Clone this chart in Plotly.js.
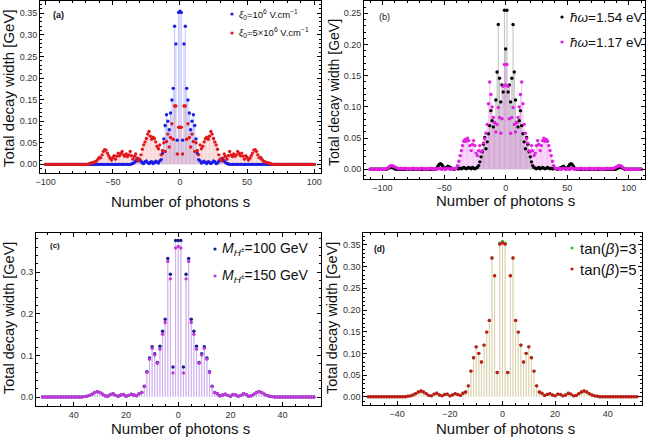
<!DOCTYPE html>
<html>
<head>
<meta charset="utf-8">
<script src="https://cdn.plot.ly/plotly-3.0.1.min.js"></script>
<style>
  html, body { margin: 0; padding: 0; background: #fff; }
  #plot { width: 650px; height: 441px; }
</style>
</head>
<body>
<div id="plot"></div>
<script>
// photon number s runs over consecutive integers in each panel
function seq(a, b) {
    const out = [];
    for (let s = a; s <= b; s++) out.push(s);
    return out;
}

// ---- panel (a): s = -100..100 ----
const sA = seq(-100, 100);
const widthA_xi1 = [
    0,0,0,0,0,0,0,0,0,0,0,0,0,0,0,0, 0,0,0,0,0,0,0,0,0,0,0,0,0,0,0,0,
    0,0,0,0,0,0,0,0,0,0,0,0,0,0,0,0, 0,0,0,0,0,0,0,0,0,0,0,0,0,0,0,0,
    0.001,0.002,0.004,0.007,0.011,0.013,0.011,0.007,0.003,0.002,0.006,0.008,0.004,0.002,0.005,0.006,0.002,0.004,
    0.007,0.005,0.003,0.008,0.011,0.025,0.059,0.090,0.115,0.100,0.080,0.119,0.149,0.176,0.320,0.279,0.056,0.352,
    0.355,
    0.352,0.056,0.279,0.320,0.176,0.149,0.119,0.080,0.100,0.115,0.090,0.059,0.025,0.011,0.008,0.003,0.005,0.007,
    0.004,0.002,0.006,0.005,0.002,0.004,0.008,0.006,0.002,0.003,0.007,0.011,0.013,0.011,0.007,0.004,0.002,0.001,
    0,0,0,0,0,0,0,0,0,0,0,0,0,0,0,0, 0,0,0,0,0,0,0,0,0,0,0,0,0,0,0,0,
    0,0,0,0,0,0,0,0,0,0,0,0,0,0,0,0, 0,0,0,0,0,0,0,0,0,0,0,0,0,0,0,0
];
const widthA_xi5 = [
    0,0,0,0,0,0,0,0,0,0,0,0,0,0,0,0, 0,0,0,0,0,0,0,0,0,0,0,0,0,0,0,0,
    0.001,0.002,0.003,0.004,0.005,0.006,0.008,0.012,
    0.016,0.015,0.022,0.030,0.034,0.033,0.026,0.020,0.014,0.010,
    0.016,0.020,0.012,0.019,0.026,0.020,0.025,0.030,0.022,0.019,
    0.024,0.018,0.022,0.030,0.020,0.012,0.018,0.024,0.015,0.008,
    0.012,0.022,0.035,0.045,0.052,0.060,0.070,0.076,0.065,0.058,
    0.063,0.060,0.052,0.042,0.036,0.045,0.022,0.032,0.050,0.030,
    0.053,0.070,0.040,0.062,0.094,0.058,0.135,0.135,0.024,0.086,
    0.086,
    0.086,0.024,0.135,0.135,0.058,0.094,0.062,0.040,0.070,0.053,
    0.030,0.050,0.032,0.022,0.045,0.036,0.042,0.052,0.060,0.063,
    0.058,0.065,0.076,0.070,0.060,0.052,0.045,0.035,0.022,0.012,
    0.008,0.015,0.024,0.018,0.012,0.020,0.030,0.022,0.018,0.024,
    0.019,0.022,0.030,0.025,0.020,0.026,0.019,0.012,0.020,0.016,
    0.010,0.014,0.020,0.026,0.033,0.034,0.030,0.022,0.015,0.016,
    0.012,0.008,0.006,0.005,0.004,0.003,0.002,0.001,
    0,0,0,0,0,0,0,0,0,0,0,0,0,0,0,0, 0,0,0,0,0,0,0,0,0,0,0,0,0,0,0,0
];

// ---- panel (b): s = -110..110 ----
const sB = seq(-110, 110);
const widthB_154 = [
    0,0,0,0,0,0,0,0,0,0,
    0,0,0,0,0.001,0.002,0.003,0.003,0.003,0.002,
    0.001,0,0,0,0,0,0,0,0,0,
    0,0,0,0,0,0,0,0,0,0,
    0,0,0,0,0,0,0,0,0,0,
    0,0,0,0.001,0.002,0.005,0.008,0.009,0.008,0.005,
    0.002,0.001,0.003,0.005,0.004,0.003,0.002,0.001,0,0.001,
    0.002,0.001,0.001,0.002,0.001,0.002,0.003,0.002,0.001,0.002,
    0.003,0.002,0.001,0.003,0.002,0.001,0.002,0.003,0.006,0.012,
    0.020,0.028,0.040,0.051,0.033,0.044,0.057,0.070,0.094,0.078,
    0.068,0.075,0.111,0.156,0.232,0.146,0.108,0.135,0.124,0.255,
    0.193,
    0.255,0.124,0.135,0.108,0.146,0.232,0.156,0.111,0.075,0.068,
    0.078,0.094,0.070,0.057,0.044,0.033,0.051,0.040,0.028,0.020,
    0.012,0.006,0.003,0.002,0.001,0.002,0.003,0.001,0.002,0.003,
    0.002,0.001,0.002,0.003,0.002,0.001,0.002,0.001,0.001,0.002,
    0.001,0,0.001,0.002,0.003,0.004,0.005,0.003,0.001,0.002,
    0.005,0.008,0.009,0.008,0.005,0.002,0.001,0,0,0,
    0,0,0,0,0,0,0,0,0,0,
    0,0,0,0,0,0,0,0,0,0,
    0,0,0,0,0,0,0,0,0,0.001,
    0.002,0.003,0.003,0.003,0.002,0.001,0,0,0,0,
    0,0,0,0,0,0,0,0,0,0
];
const widthB_117 = [
    0,0,0,0,0,0,0,0,0,0,
    0,0,0,0.001,0.002,0.003,0.005,0.006,0.006,0.005,
    0.004,0.003,0.002,0.001,0.001,0.002,0.001,0.001,0.002,0.001,
    0,0.001,0.001,0,0.001,0.002,0.001,0,0.001,0.001,
    0,0.001,0.002,0.001,0,0.001,0.001,0,0.001,0.002,
    0.001,0,0.001,0.001,0,0.001,0.002,0.001,0,0.001,
    0.001,0,0.001,0.002,0.001,0,0.001,0.002,0.001,0.001,
    0.002,0.006,0.013,0.022,0.030,0.038,0.045,0.048,0.045,0.050,
    0.046,0.038,0.030,0.040,0.046,0.038,0.026,0.022,0.030,0.038,
    0.028,0.030,0.042,0.049,0.058,0.072,0.105,0.140,0.120,0.100,
    0.083,0.075,0.060,0.072,0.099,0.083,0.058,0.081,0.133,0.168,
    0.135,
    0.168,0.133,0.081,0.058,0.083,0.099,0.072,0.060,0.075,0.083,
    0.100,0.120,0.140,0.105,0.072,0.058,0.049,0.042,0.030,0.028,
    0.038,0.030,0.022,0.026,0.038,0.046,0.040,0.030,0.038,0.046,
    0.050,0.045,0.048,0.045,0.038,0.030,0.022,0.013,0.006,0.002,
    0.001,0.001,0.002,0.001,0,0.001,0.002,0.001,0,0.001,
    0.001,0,0.001,0.002,0.001,0,0.001,0.001,0,0.001,
    0.002,0.001,0,0.001,0.001,0,0.001,0.002,0.001,0,
    0.001,0.001,0,0.001,0.002,0.001,0,0.001,0.001,0,
    0.001,0.002,0.001,0.001,0.002,0.001,0.001,0.002,0.003,0.004,
    0.005,0.006,0.006,0.005,0.003,0.002,0.001,0,0,0,
    0,0,0,0,0,0,0,0,0,0
];

// ---- panel (c): s = -52..52 ----
const sC = seq(-52, 52);
const widthC_M100 = [
    0,0, 0,0,0,0,0,0,0,0,0,0,
    0,0,0,0,0.001,0.002,0.004,0.007,0.011,0.013,
    0.011,0.007,0.003,0.002,0.006,0.008,0.004,0.002,0.005,0.006,
    0.002,0.004,0.007,0.005,0.003,0.008,0.011,0.026,0.061,0.094,
    0.121,0.104,0.083,0.122,0.158,0.187,0.333,0.295,0.072,0.376,
    0.376,
    0.376,0.072,0.295,0.333,0.187,0.158,0.122,0.083,0.104,0.121,
    0.094,0.061,0.026,0.011,0.008,0.003,0.005,0.007,0.004,0.002,
    0.006,0.005,0.002,0.004,0.008,0.006,0.002,0.003,0.007,0.011,
    0.013,0.011,0.007,0.004,0.002,0.001,0,0,0,0,
    0,0,0,0,0,0,0,0,0,0, 0,0
];
const widthC_M150 = [
    0,0, 0,0,0,0,0,0,0,0,0,0,
    0,0,0,0,0.001,0.002,0.004,0.007,0.011,0.013,
    0.011,0.007,0.003,0.002,0.006,0.008,0.004,0.002,0.005,0.006,
    0.002,0.004,0.007,0.005,0.003,0.008,0.011,0.025,0.059,0.091,
    0.117,0.101,0.081,0.115,0.151,0.179,0.326,0.284,0.058,0.358,
    0.362,
    0.358,0.058,0.284,0.326,0.179,0.151,0.115,0.081,0.101,0.117,
    0.091,0.059,0.025,0.011,0.008,0.003,0.005,0.007,0.004,0.002,
    0.006,0.005,0.002,0.004,0.008,0.006,0.002,0.003,0.007,0.011,
    0.013,0.011,0.007,0.004,0.002,0.001,0,0,0,0,
    0,0,0,0,0,0,0,0,0,0, 0,0
];

// ---- panel (d): s = -51..51 ----
const sD = seq(-51, 51);
const widthD_tan3 = [
    0, 0,0,0,0,0,0,0,0,0,0,
    0,0,0,0,0.001,0.002,0.004,0.007,0.011,0.013,
    0.011,0.007,0.003,0.002,0.006,0.008,0.004,0.002,0.005,0.006,
    0.002,0.004,0.007,0.005,0.003,0.008,0.011,0.025,0.059,0.090,
    0.115,0.100,0.080,0.119,0.149,0.176,0.320,0.279,0.056,0.354,
    0.358,
    0.354,0.056,0.279,0.320,0.176,0.149,0.119,0.080,0.100,0.115,
    0.090,0.059,0.025,0.011,0.008,0.003,0.005,0.007,0.004,0.002,
    0.006,0.005,0.002,0.004,0.008,0.006,0.002,0.003,0.007,0.011,
    0.013,0.011,0.007,0.004,0.002,0.001,0,0,0,0,
    0,0,0,0,0,0,0,0,0,0, 0
];
const widthD_tan5 = [
    0, 0,0,0,0,0,0,0,0,0,0,
    0,0,0,0,0.001,0.002,0.004,0.007,0.011,0.013,
    0.011,0.007,0.003,0.002,0.006,0.008,0.004,0.002,0.005,0.006,
    0.002,0.004,0.007,0.005,0.003,0.008,0.011,0.025,0.059,0.090,
    0.115,0.100,0.080,0.119,0.149,0.176,0.320,0.279,0.056,0.352,
    0.355,
    0.352,0.056,0.279,0.320,0.176,0.149,0.119,0.080,0.100,0.115,
    0.090,0.059,0.025,0.011,0.008,0.003,0.005,0.007,0.004,0.002,
    0.006,0.005,0.002,0.004,0.008,0.006,0.002,0.003,0.007,0.011,
    0.013,0.011,0.007,0.004,0.002,0.001,0,0,0,0,
    0,0,0,0,0,0,0,0,0,0, 0
];

const FONT = 'Liberation Sans, Arial, sans-serif';

// vertical filling from the axis to each point
function stems(xs, ys, color, ax) {
    const x = [], y = [];
    xs.forEach((s, i) => { x.push(s, s, null); y.push(0, ys[i], null); });
    return { x: x, y: y, mode: 'lines', type: 'scatter', hoverinfo: 'skip',
        line: { color: color, width: 1 }, xaxis: 'x' + ax, yaxis: 'y' + ax, showlegend: false };
}

function dots(xs, ys, color, ax) {
    return { x: xs, y: ys, mode: 'markers', type: 'scatter',
        marker: { color: color, size: 3.4 }, xaxis: 'x' + ax, yaxis: 'y' + ax, showlegend: false };
}

const data = [
    stems(sA, widthA_xi1, 'rgba(140,150,245,0.55)', ''),
    stems(sA, widthA_xi5, 'rgba(245,150,150,0.45)', ''),
    dots(sA, widthA_xi1, '#1c1ce6', ''),
    dots(sA, widthA_xi5, '#e0181c', ''),

    stems(sB, widthB_154, 'rgba(150,150,150,0.6)', '2'),
    stems(sB, widthB_117, 'rgba(235,140,235,0.5)', '2'),
    dots(sB, widthB_154, '#000000', '2'),
    dots(sB, widthB_117, '#e01ee0', '2'),

    stems(sC, widthC_M100, 'rgba(150,150,220,0.5)', '3'),
    stems(sC, widthC_M150, 'rgba(215,150,240,0.6)', '3'),
    dots(sC, widthC_M100, '#1a1a8c', '3'),
    dots(sC, widthC_M150, '#c03ad8', '3'),

    stems(sD, widthD_tan3, 'rgba(200,215,160,0.6)', '4'),
    stems(sD, widthD_tan5, 'rgba(215,190,150,0.6)', '4'),
    dots(sD, widthD_tan3, '#3cc03c', '4'),
    dots(sD, widthD_tan5, '#c8161c', '4')
];

function frame(extra) {
    return Object.assign({
        showline: true, linecolor: '#000', linewidth: 1, mirror: 'allticks',
        ticks: 'inside', ticklen: 4, tickcolor: '#000', tickwidth: 1,
        showgrid: false, zeroline: false, fixedrange: true,
        tickfont: { family: FONT, size: 9, color: '#333' },
        minor: { ticks: 'inside', ticklen: 2, tickcolor: '#000', showgrid: false }
    }, extra);
}

function px(x) { return x / 650; }
function py(y) { return 1 - y / 441; }

function text(x, y, t, size, opts) {
    return Object.assign({ xref: 'paper', yref: 'paper', x: px(x), y: py(y), text: t,
        showarrow: false, xanchor: 'left', yanchor: 'middle',
        font: { family: FONT, size: size, color: '#111' } }, opts || {});
}

function legendDot(x, y, color) {
    const r = 1.6;
    return { type: 'circle', xref: 'paper', yref: 'paper',
        x0: px(x - r), x1: px(x + r), y0: py(y + r), y1: py(y - r),
        fillcolor: color, line: { width: 0 } };
}

const layout = {
    width: 650, height: 441,
    margin: { l: 0, r: 0, t: 0, b: 0 },
    paper_bgcolor: '#fff', plot_bgcolor: '#fff',
    showlegend: false,
    xaxis: frame({ domain: [0.0615, 0.4934], range: [-104.2, 104.8], anchor: 'y',
        tickvals: [-100, -50, 0, 50, 100], minor: { dtick: 10, ticks: 'inside', ticklen: 2, tickcolor: '#000' } }),
    yaxis: frame({ domain: [0.607, 0.998], range: [-0.0208, 0.3787], anchor: 'x',
        tick0: 0, dtick: 0.05, tickformat: '.2f', minor: { dtick: 0.01, ticks: 'inside', ticklen: 2, tickcolor: '#000' } }),
    xaxis2: frame({ domain: [0.560, 0.9923], range: [-115, 113.1], anchor: 'y2',
        tickvals: [-100, -50, 0, 50, 100], minor: { dtick: 10, ticks: 'inside', ticklen: 2, tickcolor: '#000' } }),
    yaxis2: frame({ domain: [0.5941, 0.9977], range: [-0.0155, 0.2697], anchor: 'x2',
        tick0: 0, dtick: 0.05, tickformat: '.2f', minor: { dtick: 0.01, ticks: 'inside', ticklen: 2, tickcolor: '#000' } }),
    xaxis3: frame({ domain: [0.0554, 0.4934], range: [-54.5, 54.6], anchor: 'y3',
        tickvals: [-40, -20, 0, 20, 40], ticktext: ['40', '20', '0', '20', '40'],
        minor: { dtick: 5, ticks: 'inside', ticklen: 2, tickcolor: '#000' } }),
    yaxis3: frame({ domain: [0.0800, 0.4710], range: [-0.0209, 0.3935], anchor: 'x3',
        tick0: 0, dtick: 0.1, tickformat: '.1f', minor: { dtick: 0.02, ticks: 'inside', ticklen: 2, tickcolor: '#000' } }),
    xaxis4: frame({ domain: [0.5589, 0.9872], range: [-52.9, 52.9], anchor: 'y4',
        tickvals: [-40, -20, 0, 20, 40], minor: { dtick: 5, ticks: 'inside', ticklen: 2, tickcolor: '#000' } }),
    yaxis4: frame({ domain: [0.0810, 0.4710], range: [-0.0198, 0.377], anchor: 'x4',
        tick0: 0, dtick: 0.05, tickformat: '.2f', minor: { dtick: 0.01, ticks: 'inside', ticklen: 2, tickcolor: '#000' } }),
    annotations: [
        // axis titles
        text(180, 201, 'Number of photons s', 15, { xanchor: 'center' }),
        text(505, 200, 'Number of photons s', 15, { xanchor: 'center' }),
        text(180, 428, 'Number of photons s', 15, { xanchor: 'center' }),
        text(505, 428, 'Number of photons s', 15, { xanchor: 'center' }),
        text(8, 88, 'Total decay width [GeV]', 15, { xanchor: 'center', textangle: -90 }),
        text(334, 93, 'Total decay width [GeV]', 14, { xanchor: 'center', textangle: -90 }),
        text(9, 318, 'Total decay width [GeV]', 14.5, { xanchor: 'center', textangle: -90 }),
        text(332, 318, 'Total decay width [GeV]', 14.5, { xanchor: 'center', textangle: -90 }),
        // panel labels
        text(51, 15, '<b>(a)</b>', 9),
        text(377, 17, '(b)', 9),
        text(48, 246, '<b>(c)</b>', 8),
        text(372, 249, '<b>(d)</b>', 8.5),
        // legends
        text(237, 14, '<i>ξ</i><sub>0</sub>=10<sup>6</sup> V.cm<sup>−1</sup>', 9.5),
        text(237, 33, '<i>ξ</i><sub>0</sub>=5×10<sup>6</sup> V.cm<sup>−1</sup>', 9.5),
        text(568, 17, '<i>ħω</i>=1.54 eV', 13.5),
        text(568, 42, '<i>ħω</i>=1.17 eV', 13.5),
        text(220, 249, '<i>M</i><sub><i>H</i><sup>±</sup></sub>=100 GeV', 14),
        text(220, 276, '<i>M</i><sub><i>H</i><sup>±</sup></sub>=150 GeV', 14),
        text(578, 248, 'tan(<i>β</i>)=3', 15),
        text(578, 269, 'tan(<i>β</i>)=5', 15)
    ],
    shapes: [
        legendDot(232, 14, '#1c1ce6'),
        legendDot(232, 33, '#e0181c'),
        legendDot(562, 17, '#000000'),
        legendDot(562, 42, '#e01ee0'),
        legendDot(215, 249, '#1a1a8c'),
        legendDot(215, 276, '#c03ad8'),
        legendDot(572, 248, '#3cc03c'),
        legendDot(572, 269, '#c8161c')
    ]
};

Plotly.newPlot('plot', data, layout, { staticPlot: true, displayModeBar: false });
</script>
</body>
</html>
